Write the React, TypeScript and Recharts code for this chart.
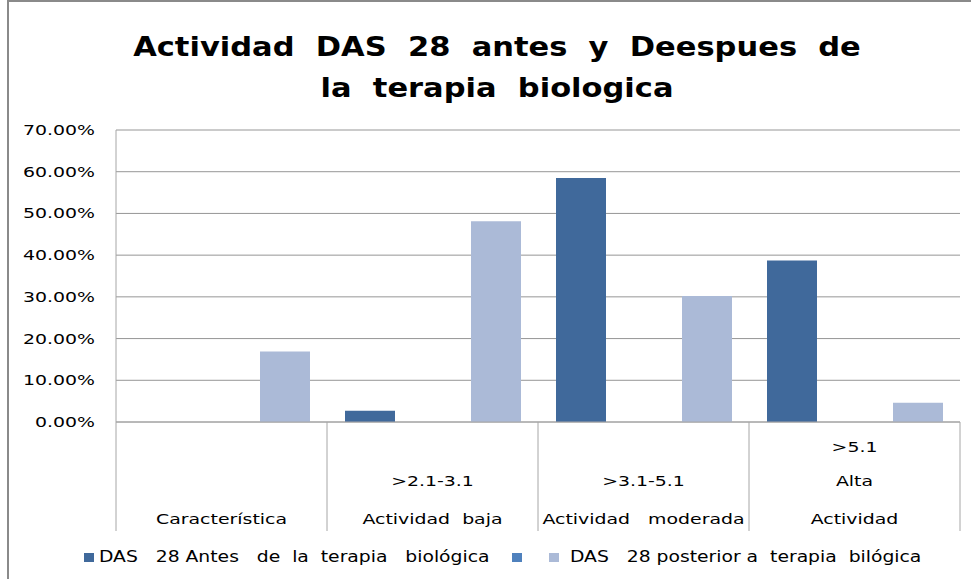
import { Bar, BarChart, CartesianGrid, XAxis, YAxis } from 'recharts';

// categories (each label drawn as stacked lines, bottom aligned)
const CATEGORY_KEYS = ['caracteristica', 'baja', 'moderada', 'alta'];
const CATEGORY_LINES = [
  ['Característica'],
  ['>2.1-3.1', 'Actividad  baja'],
  ['>3.1-5.1', 'Actividad   moderada'],
  ['>5.1', 'Alta', 'Actividad'],
];

// series values, in percent
const ANTES = [0, 2.7, 58.5, 38.7];
const SIN_NOMBRE = [0, 0, 0, 0];
const POSTERIOR = [16.9, 48.1, 30.2, 4.6];

const Y_TICKS = [0, 10, 20, 30, 40, 50, 60, 70];

const TITLE_LINES = ['Actividad  DAS  28  antes  y  Deespues  de', 'la  terapia  biologica'];
const LEGEND_ANTES = 'DAS   28 Antes   de  la  terapia   biológica';
const LEGEND_POSTERIOR = 'DAS   28 posterior a  terapia  bilógica';

const DARK = '#40699b';
const MID = '#4f81bd';
const LIGHT = '#abbad7';
const GRID = '#969696';
const FONT = '"DejaVu Sans", Verdana, sans-serif';
const STRETCH = 1.35;

const W = 971;
const H = 579;
const MARGIN = { top: 130, right: 11, bottom: 47, left: 16 };
const Y_WIDTH = 100;
const BAND = (W - MARGIN.left - MARGIN.right - Y_WIDTH) / CATEGORY_KEYS.length;
const LINE_OFFSETS = [102, 64, 30]; // baseline offsets below axis, from the bottom line up

const data = CATEGORY_KEYS.map((key, i) => ({
  key,
  antes: ANTES[i],
  medio: SIN_NOMBRE[i],
  posterior: POSTERIOR[i],
}));

function YTick(props: any) {
  const { x, y, payload } = props;
  return (
    <text
      transform={`translate(${x},${y}) scale(${STRETCH},1)`}
      textAnchor="end"
      dy="0.36em"
      fontFamily={FONT}
      fontSize={14}
      fill="#000"
    >
      {Number(payload.value).toFixed(2)}%
    </text>
  );
}

function XTick(props: any) {
  const { x, y, index } = props;
  const lines = CATEGORY_LINES[index] || [];
  const n = lines.length;
  return (
    <g>
      <line x1={x - BAND / 2} x2={x - BAND / 2} y1={y} y2={y + 109} stroke="#a6a6a6" />
      {index === CATEGORY_KEYS.length - 1 && (
        <line x1={x + BAND / 2} x2={x + BAND / 2} y1={y} y2={y + 109} stroke="#a6a6a6" />
      )}
      {lines.map((t, i) => (
        <text
          key={i}
          transform={`translate(${x},${y + LINE_OFFSETS[n - 1 - i]}) scale(${STRETCH},1)`}
          textAnchor="middle"
          fontFamily={FONT}
          fontSize={14}
          fill="#000"
          style={{ whiteSpace: 'pre' }}
        >
          {t}
        </text>
      ))}
    </g>
  );
}

function Swatch({ left, color }: { left: number; color: string }) {
  return (
    <div style={{ position: 'absolute', left, top: 553, width: 10, height: 9, background: color }} />
  );
}

function LegendText({ left, text }: { left: number; text: string }) {
  return (
    <div
      style={{
        position: 'absolute',
        left,
        top: 547,
        fontFamily: FONT,
        fontSize: 15,
        lineHeight: '20px',
        whiteSpace: 'pre',
        transform: 'scaleX(1.25)',
        transformOrigin: 'left center',
        color: '#000',
      }}
    >
      {text}
    </div>
  );
}

export default function App() {
  return (
    <div style={{ position: 'absolute', left: 0, top: 0, width: W, height: H, background: '#fff', overflow: 'hidden' }}>
      <div style={{ position: 'absolute', left: 7, top: 0, width: W, height: H, borderLeft: '2px solid #8a8a8a', borderTop: '2px solid #8a8a8a' }} />
      <div style={{ position: 'absolute', left: 0, top: 26, width: 994, textAlign: 'center' }}>
        {TITLE_LINES.map((t, i) => (
          <div
            key={i}
            style={{
              fontFamily: FONT,
              fontWeight: 'bold',
              fontSize: 27,
              lineHeight: '41px',
              whiteSpace: 'pre',
              transform: 'scaleX(1.13)',
              color: '#000',
            }}
          >
            {t}
          </div>
        ))}
      </div>
      <BarChart
        width={W}
        height={H}
        data={data}
        margin={MARGIN}
        barSize={50}
        barGap={13}
        barCategoryGap={17.5}
      >
        <CartesianGrid vertical={false} stroke={GRID} />
        <YAxis
          domain={[0, 70]}
          ticks={Y_TICKS}
          width={Y_WIDTH}
          tickSize={0}
          tickMargin={21}
          axisLine={{ stroke: '#a6a6a6' }}
          tick={<YTick />}
          interval={0}
        />
        <XAxis
          dataKey="key"
          height={110}
          tickSize={0}
          tickMargin={0}
          axisLine={{ stroke: '#a6a6a6' }}
          tick={<XTick />}
          interval={0}
        />
        <Bar dataKey="antes" fill={DARK} isAnimationActive={false} />
        <Bar dataKey="medio" fill={MID} isAnimationActive={false} />
        <Bar dataKey="posterior" fill={LIGHT} isAnimationActive={false} />
      </BarChart>
      <Swatch left={84} color={DARK} />
      <LegendText left={99} text={LEGEND_ANTES} />
      <Swatch left={512} color={MID} />
      <Swatch left={549} color={LIGHT} />
      <LegendText left={570} text={LEGEND_POSTERIOR} />
    </div>
  );
}
